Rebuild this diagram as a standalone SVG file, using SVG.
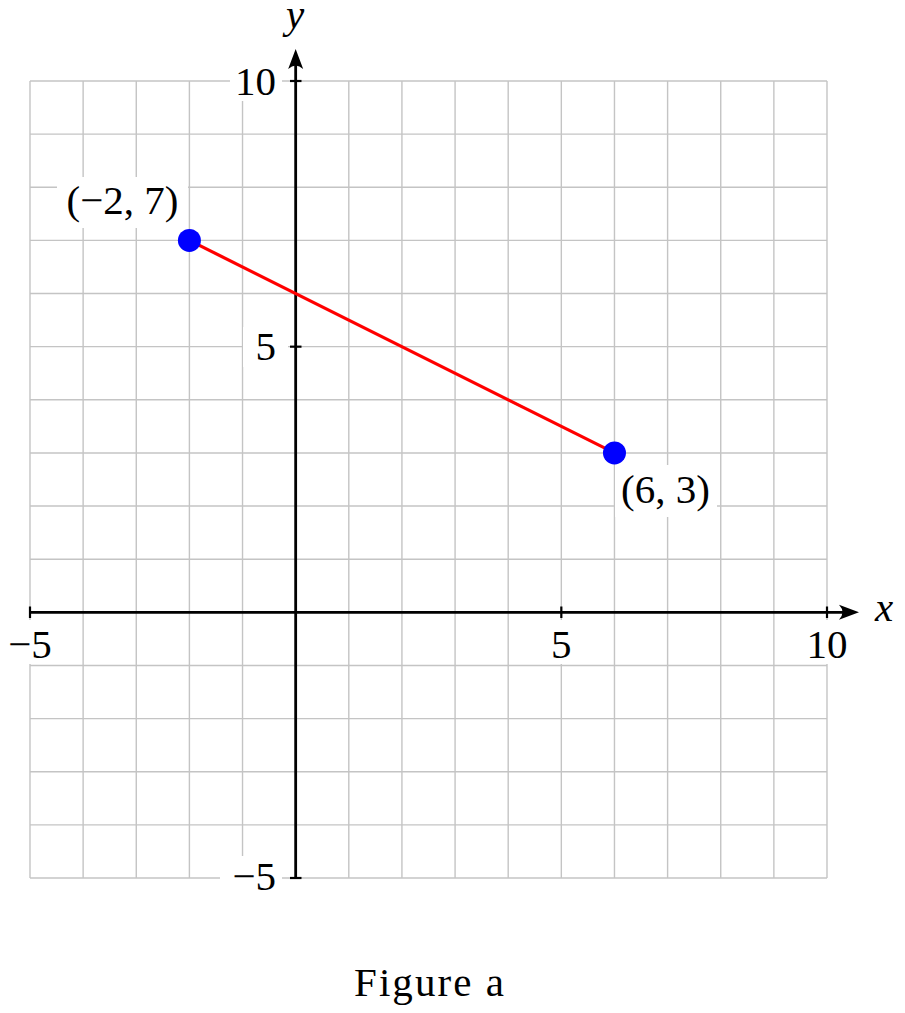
<svg xmlns="http://www.w3.org/2000/svg" width="905" height="1013" viewBox="0 0 905 1013">
<style>
.grid line{stroke:#c4c4c4;stroke-width:1.4}
.axis{stroke:#000;stroke-width:2.8;fill:none}
.tick{stroke:#000;stroke-width:2.2}
.bg{fill:#fff}
text{font-family:"Liberation Serif","DejaVu Serif",serif;font-size:41px;fill:#000}
.it{font-style:italic}
.c{text-anchor:middle}
.e{text-anchor:end}
</style>
<defs>
<marker id="arr" viewBox="-14 -10 24 20" markerWidth="24" markerHeight="20" refX="0" refY="0" orient="auto" markerUnits="userSpaceOnUse">
<path d="M8,0 L-12,-7.5 Q-5,0 -12,7.5 Z" fill="#000"/>
</marker>
</defs>
<rect width="905" height="1013" fill="#fff"/>
<g id="grid" class="grid">
<line x1="30" y1="81" x2="30" y2="878"/>
<line x1="83.13" y1="81" x2="83.13" y2="878"/>
<line x1="136.27" y1="81" x2="136.27" y2="878"/>
<line x1="189.4" y1="81" x2="189.4" y2="878"/>
<line x1="242.53" y1="81" x2="242.53" y2="878"/>
<line x1="295.67" y1="81" x2="295.67" y2="878"/>
<line x1="348.8" y1="81" x2="348.8" y2="878"/>
<line x1="401.93" y1="81" x2="401.93" y2="878"/>
<line x1="455.07" y1="81" x2="455.07" y2="878"/>
<line x1="508.2" y1="81" x2="508.2" y2="878"/>
<line x1="561.33" y1="81" x2="561.33" y2="878"/>
<line x1="614.47" y1="81" x2="614.47" y2="878"/>
<line x1="667.6" y1="81" x2="667.6" y2="878"/>
<line x1="720.73" y1="81" x2="720.73" y2="878"/>
<line x1="773.87" y1="81" x2="773.87" y2="878"/>
<line x1="827" y1="81" x2="827" y2="878"/>
<line x1="30" y1="81" x2="827" y2="81"/>
<line x1="30" y1="134.13" x2="827" y2="134.13"/>
<line x1="30" y1="187.27" x2="827" y2="187.27"/>
<line x1="30" y1="240.4" x2="827" y2="240.4"/>
<line x1="30" y1="293.53" x2="827" y2="293.53"/>
<line x1="30" y1="346.67" x2="827" y2="346.67"/>
<line x1="30" y1="399.8" x2="827" y2="399.8"/>
<line x1="30" y1="452.93" x2="827" y2="452.93"/>
<line x1="30" y1="506.07" x2="827" y2="506.07"/>
<line x1="30" y1="559.2" x2="827" y2="559.2"/>
<line x1="30" y1="612.33" x2="827" y2="612.33"/>
<line x1="30" y1="665.47" x2="827" y2="665.47"/>
<line x1="30" y1="718.6" x2="827" y2="718.6"/>
<line x1="30" y1="771.73" x2="827" y2="771.73"/>
<line x1="30" y1="824.87" x2="827" y2="824.87"/>
<line x1="30" y1="878" x2="827" y2="878"/>
</g>
<g id="axes">
<line class="axis" x1="30" y1="612.33" x2="851" y2="612.33" marker-end="url(#arr)"/>
<line class="axis" x1="295.67" y1="878" x2="295.67" y2="57" marker-end="url(#arr)"/>
<line class="tick" x1="30" y1="606.5" x2="30" y2="618"/>
<line class="tick" x1="561.33" y1="606.5" x2="561.33" y2="618"/>
<line class="tick" x1="827" y1="606.5" x2="827" y2="618"/>
<line class="tick" x1="290" y1="81" x2="301.5" y2="81"/>
<line class="tick" x1="290" y1="346.67" x2="301.5" y2="346.67"/>
<line class="tick" x1="290" y1="878" x2="301.5" y2="878"/>
<text class="it" x="875" y="621">x</text>
<text class="it c" x="295" y="28">y</text>
</g>
<g id="ticklabels">
<rect class="bg" x="2" y="620" width="56" height="44"/>
<text class="c" x="30" y="658">−5</text>
<rect class="bg" x="545" y="620" width="33" height="44"/>
<text class="c" x="561.33" y="658">5</text>
<rect class="bg" x="800" y="620" width="54" height="44"/>
<text class="c" x="827" y="658">10</text>
<rect class="bg" x="230" y="61" width="52" height="40"/>
<text class="e" x="276" y="95">10</text>
<rect class="bg" x="243" y="327" width="45" height="40"/>
<text class="e" x="276" y="360">5</text>
<rect class="bg" x="220" y="856" width="62" height="44"/>
<text class="e" x="276" y="890">−5</text>
</g>
<g id="connectors">
<line x1="189.4" y1="240.4" x2="614.47" y2="452.93" stroke="#ff0000" stroke-width="3.2"/>
</g>
<g id="pointA">
<rect class="bg" x="57" y="177" width="131" height="51"/>
<text class="c" x="122.5" y="214">(−2, 7)</text>
<circle cx="189.4" cy="240.4" r="11.5" fill="#0000ff"/>
</g>
<g id="pointB">
<rect class="bg" x="615" y="465" width="102" height="52"/>
<text class="c" x="665.5" y="503">(6, 3)</text>
<circle cx="614.47" cy="452.93" r="11.5" fill="#0000ff"/>
</g>
<g id="caption">
<text class="c" x="429" y="996" textLength="150">Figure a</text>
</g>
</svg>
